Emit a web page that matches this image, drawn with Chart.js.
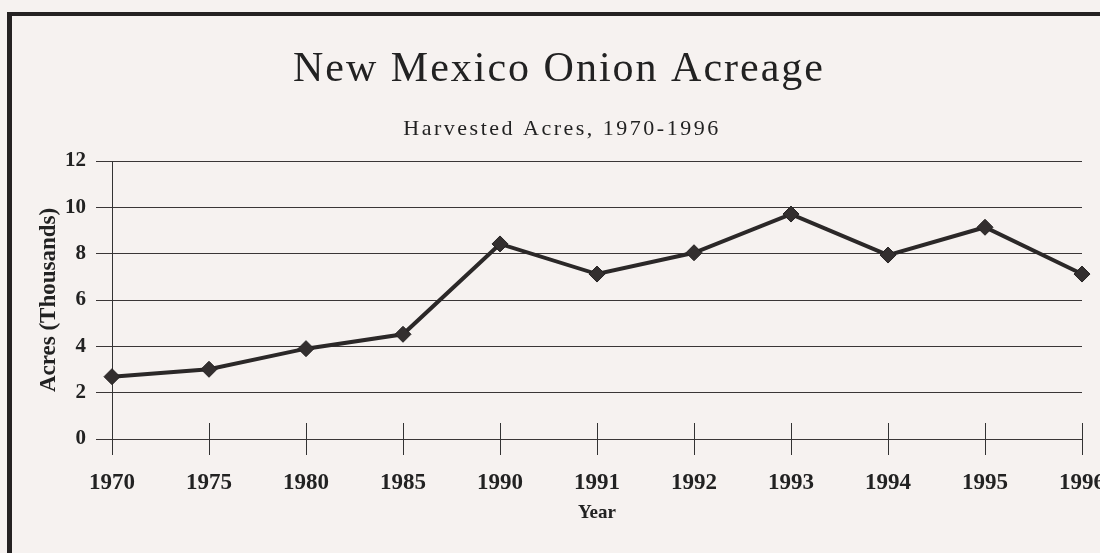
<!DOCTYPE html>
<html>
<head>
<meta charset="utf-8">
<script src="https://cdn.jsdelivr.net/npm/chart.js@4.4.1/dist/chart.umd.min.js"></script>
<style>
  html, body { margin: 0; padding: 0; background: #f6f2f0; overflow: hidden; }
  #wrap { position: relative; width: 1100px; height: 553px; }
  #frame { position: absolute; left: 7px; top: 12px; width: 2000px; height: 2000px;
           border-left: 5px solid #252222; border-top: 4px solid #252222; }
  canvas { position: absolute; left: 0; top: 0; }
</style>
</head>
<body>
<div id="wrap">
  <div id="frame"></div>
  <canvas id="grafico" width="1100" height="553"></canvas>
</div>
<script>
const anos = ['1970', '1975', '1980', '1985', '1990', '1991', '1992', '1993', '1994', '1995', '1996'];
const acres = [2.69, 3.01, 3.90, 4.52, 8.42, 7.12, 8.04, 9.71, 7.94, 9.14, 7.12];
const yTicks = [0, 2, 4, 6, 8, 10, 12];

const titulo = 'New Mexico Onion Acreage';
const subtitulo = 'Harvested Acres, 1970-1996';

// titles drawn by hand so the letter spacing of the original can be kept
const titulos = {
  id: 'titulos',
  afterDraw(chart) {
    const ctx = chart.ctx;
    ctx.save();
    ctx.fillStyle = '#222';
    ctx.textAlign = 'center';
    ctx.textBaseline = 'alphabetic';
    ctx.letterSpacing = '2px';
    ctx.font = '42px "Liberation Serif"';
    ctx.fillText(titulo, 559, 81);
    ctx.letterSpacing = '2.5px';
    ctx.font = '22px "Liberation Serif"';
    ctx.fillText(subtitulo, 562, 135);
    ctx.restore();
  }
};

// y axis line and the x tick marks that cross the zero line
const marcas = {
  id: 'marcas',
  beforeDatasetsDraw(chart) {
    const { ctx, scales: { x, y }, chartArea } = chart;
    const y0 = y.getPixelForValue(0);
    ctx.save();
    ctx.strokeStyle = '#333';
    ctx.lineWidth = 1;
    ctx.beginPath();
    const xa = Math.round(x.getPixelForValue(0)) + 0.5;
    ctx.moveTo(xa, chartArea.top);
    ctx.lineTo(xa, y0 + 16);
    anos.forEach((a, i) => {
      const px = Math.round(x.getPixelForValue(i)) + 0.5;
      ctx.moveTo(px, y0 - 16);
      ctx.lineTo(px, y0 + 16);
    });
    ctx.stroke();
    ctx.restore();
  }
};

new Chart(document.getElementById('grafico').getContext('2d'), {
  type: 'line',
  data: {
    labels: anos,
    datasets: [{
      data: acres,
      borderColor: '#2b2828',
      borderWidth: 4,
      tension: 0,
      pointStyle: 'rectRot',
      pointRadius: 8,
      pointBackgroundColor: '#332f2f',
      pointBorderColor: '#252222',
      pointBorderWidth: 1,
      clip: false
    }]
  },
  options: {
    responsive: false,
    animation: false,
    layout: { autoPadding: false, padding: { top: 161, right: 18, left: 0, bottom: 0 } },
    plugins: { legend: { display: false }, tooltip: { enabled: false } },
    scales: {
      x: {
        type: 'category',
        offset: false,
        grid: { display: true, drawOnChartArea: false, drawTicks: false },
        border: { display: false },
        ticks: {
          color: '#222',
          font: { family: 'Liberation Serif', size: 23, weight: 'bold' },
          padding: 30,
          maxRotation: 0,
          autoSkip: false
        },
        title: {
          display: true,
          text: 'Year',
          color: '#222',
          font: { family: 'Liberation Serif', size: 19, weight: 'bold' },
          padding: { top: 0, bottom: 29 }
        },
        afterFit(s) { s.height = 114; s.paddingLeft = 0; s.paddingRight = 0; }
      },
      y: {
        min: 0,
        max: 12,
        afterBuildTicks(s) { s.ticks = yTicks.map(v => ({ value: v })); },
        grid: { color: '#3a3636', lineWidth: 1, tickLength: 16, drawTicks: true },
        border: { display: false },
        ticks: {
          color: '#222',
          font: { family: 'Liberation Serif', size: 21, weight: 'bold' },
          padding: 10
        },
        title: {
          display: true,
          text: 'Acres (Thousands)',
          color: '#222',
          font: { family: 'Liberation Serif', size: 23, weight: 'bold' },
          padding: { top: 35, bottom: 0 }
        },
        afterFit(s) { s.width = 112; s.paddingTop = 0; s.paddingBottom = 0; }
      }
    }
  },
  plugins: [titulos, marcas]
});
</script>
</body>
</html>
